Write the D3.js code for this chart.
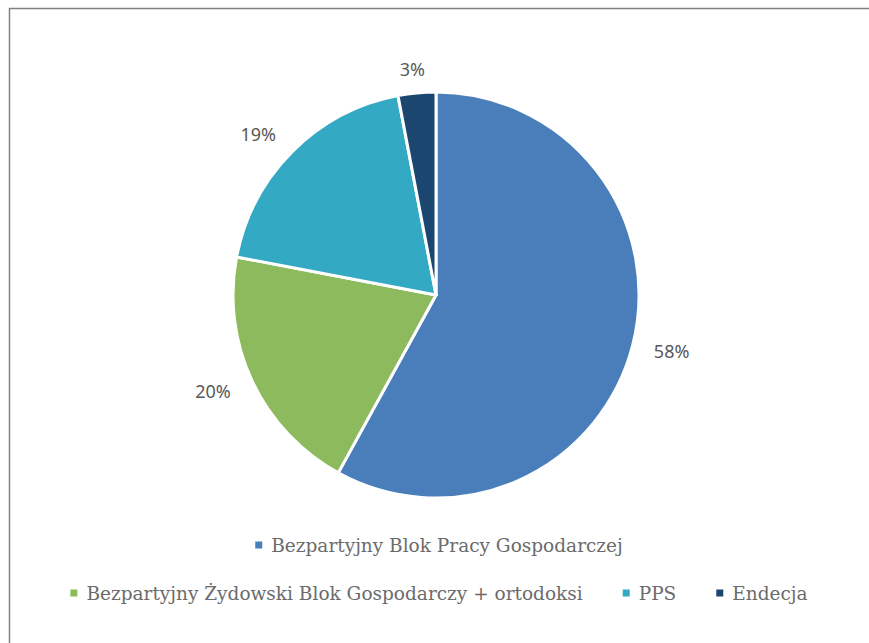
<!DOCTYPE html>
<html>
<head>
<meta charset="utf-8">
<script src="https://cdn.jsdelivr.net/npm/d3@7"></script>
<style>
  html, body { margin: 0; padding: 0; background: #fff; }
  svg { display: block; }
</style>
</head>
<body>
<svg id="chart" width="869" height="643"></svg>
<script>
// Vote shares, clockwise from 12 o'clock
const parties = [
  "Bezpartyjny Blok Pracy Gospodarczej",
  "Bezpartyjny Żydowski Blok Gospodarczy + ortodoksi",
  "PPS",
  "Endecja"
];
const shares = [58, 20, 19, 3];
const colors = ["#4a7ebb", "#8dba5d", "#33a9c3", "#1a4670"];
const legendRows = [[0], [1, 2, 3]];

const svg = d3.select("#chart");
const W = 869, H = 643;

// chart frame (runs off the right and bottom edges)
svg.append("rect")
  .attr("x", 9.5).attr("y", 8.5)
  .attr("width", W + 20).attr("height", H + 20)
  .attr("fill", "#fff")
  .attr("stroke", "#808080")
  .attr("stroke-width", 1.5);

const cx = 436, cy = 295, R = 203;
const data = parties.map((p, i) => ({ name: p, value: shares[i], color: colors[i] }));

const pie = d3.pie().value(d => d.value).sort(null);
const arc = d3.arc().innerRadius(0).outerRadius(R);
const arcs = pie(data);

const g = svg.append("g").attr("transform", `translate(${cx},${cy})`);
g.selectAll("path.slice")
  .data(arcs)
  .join("path")
  .attr("class", "slice")
  .attr("d", arc)
  .attr("fill", d => d.data.color)
  .attr("stroke", "#fff")
  .attr("stroke-width", 3)
  .attr("stroke-linejoin", "round");

// percentage labels just outside the rim
const labelFont = "'Noto Sans', 'Open Sans', sans-serif";
const labels = g.selectAll("text.pct")
  .data(arcs)
  .join("text")
  .attr("class", "pct")
  .attr("font-family", labelFont)
  .attr("font-size", 18)
  .attr("fill", "#595959")
  .attr("text-anchor", "middle")
  .text(d => d.data.value + "%");

labels.each(function(d) {
  const bb = this.getBBox();
  const a = (d.startAngle + d.endAngle) / 2;
  const sx = Math.sin(a), sy = -Math.cos(a);
  const gap = R + 14;
  const x = sx * (gap + bb.width / 2 + 4 + Math.abs(sy) * 18);
  const y = sy * (gap + bb.height * 0.4);
  d3.select(this).attr("x", x).attr("y", y).attr("dy", "0.35em");
});

// legend
const legendFont = "'DejaVu Serif', serif";
const legendY = [545, 593];
const sq = 7, sqGap = 9, itemGap = 40, centerX = 439;
const lg = svg.append("g");
legendRows.forEach((row, ri) => {
  const items = row.map(i => {
    const t = lg.append("text")
      .attr("font-family", legendFont)
      .attr("font-size", 18.5)
      .attr("fill", "#6b6b6b")
      .attr("dominant-baseline", "central")
      .attr("y", legendY[ri])
      .text(parties[i]);
    return { i, t, w: t.node().getComputedTextLength() };
  });
  const total = d3.sum(items, d => sq + sqGap + d.w) + itemGap * (items.length - 1);
  let x = centerX - total / 2;
  items.forEach(it => {
    lg.append("rect")
      .attr("x", x).attr("y", legendY[ri] - sq / 2)
      .attr("width", sq).attr("height", sq)
      .attr("fill", colors[it.i]);
    it.t.attr("x", x + sq + sqGap);
    x += sq + sqGap + it.w + itemGap;
  });
});
</script>
</body>
</html>
